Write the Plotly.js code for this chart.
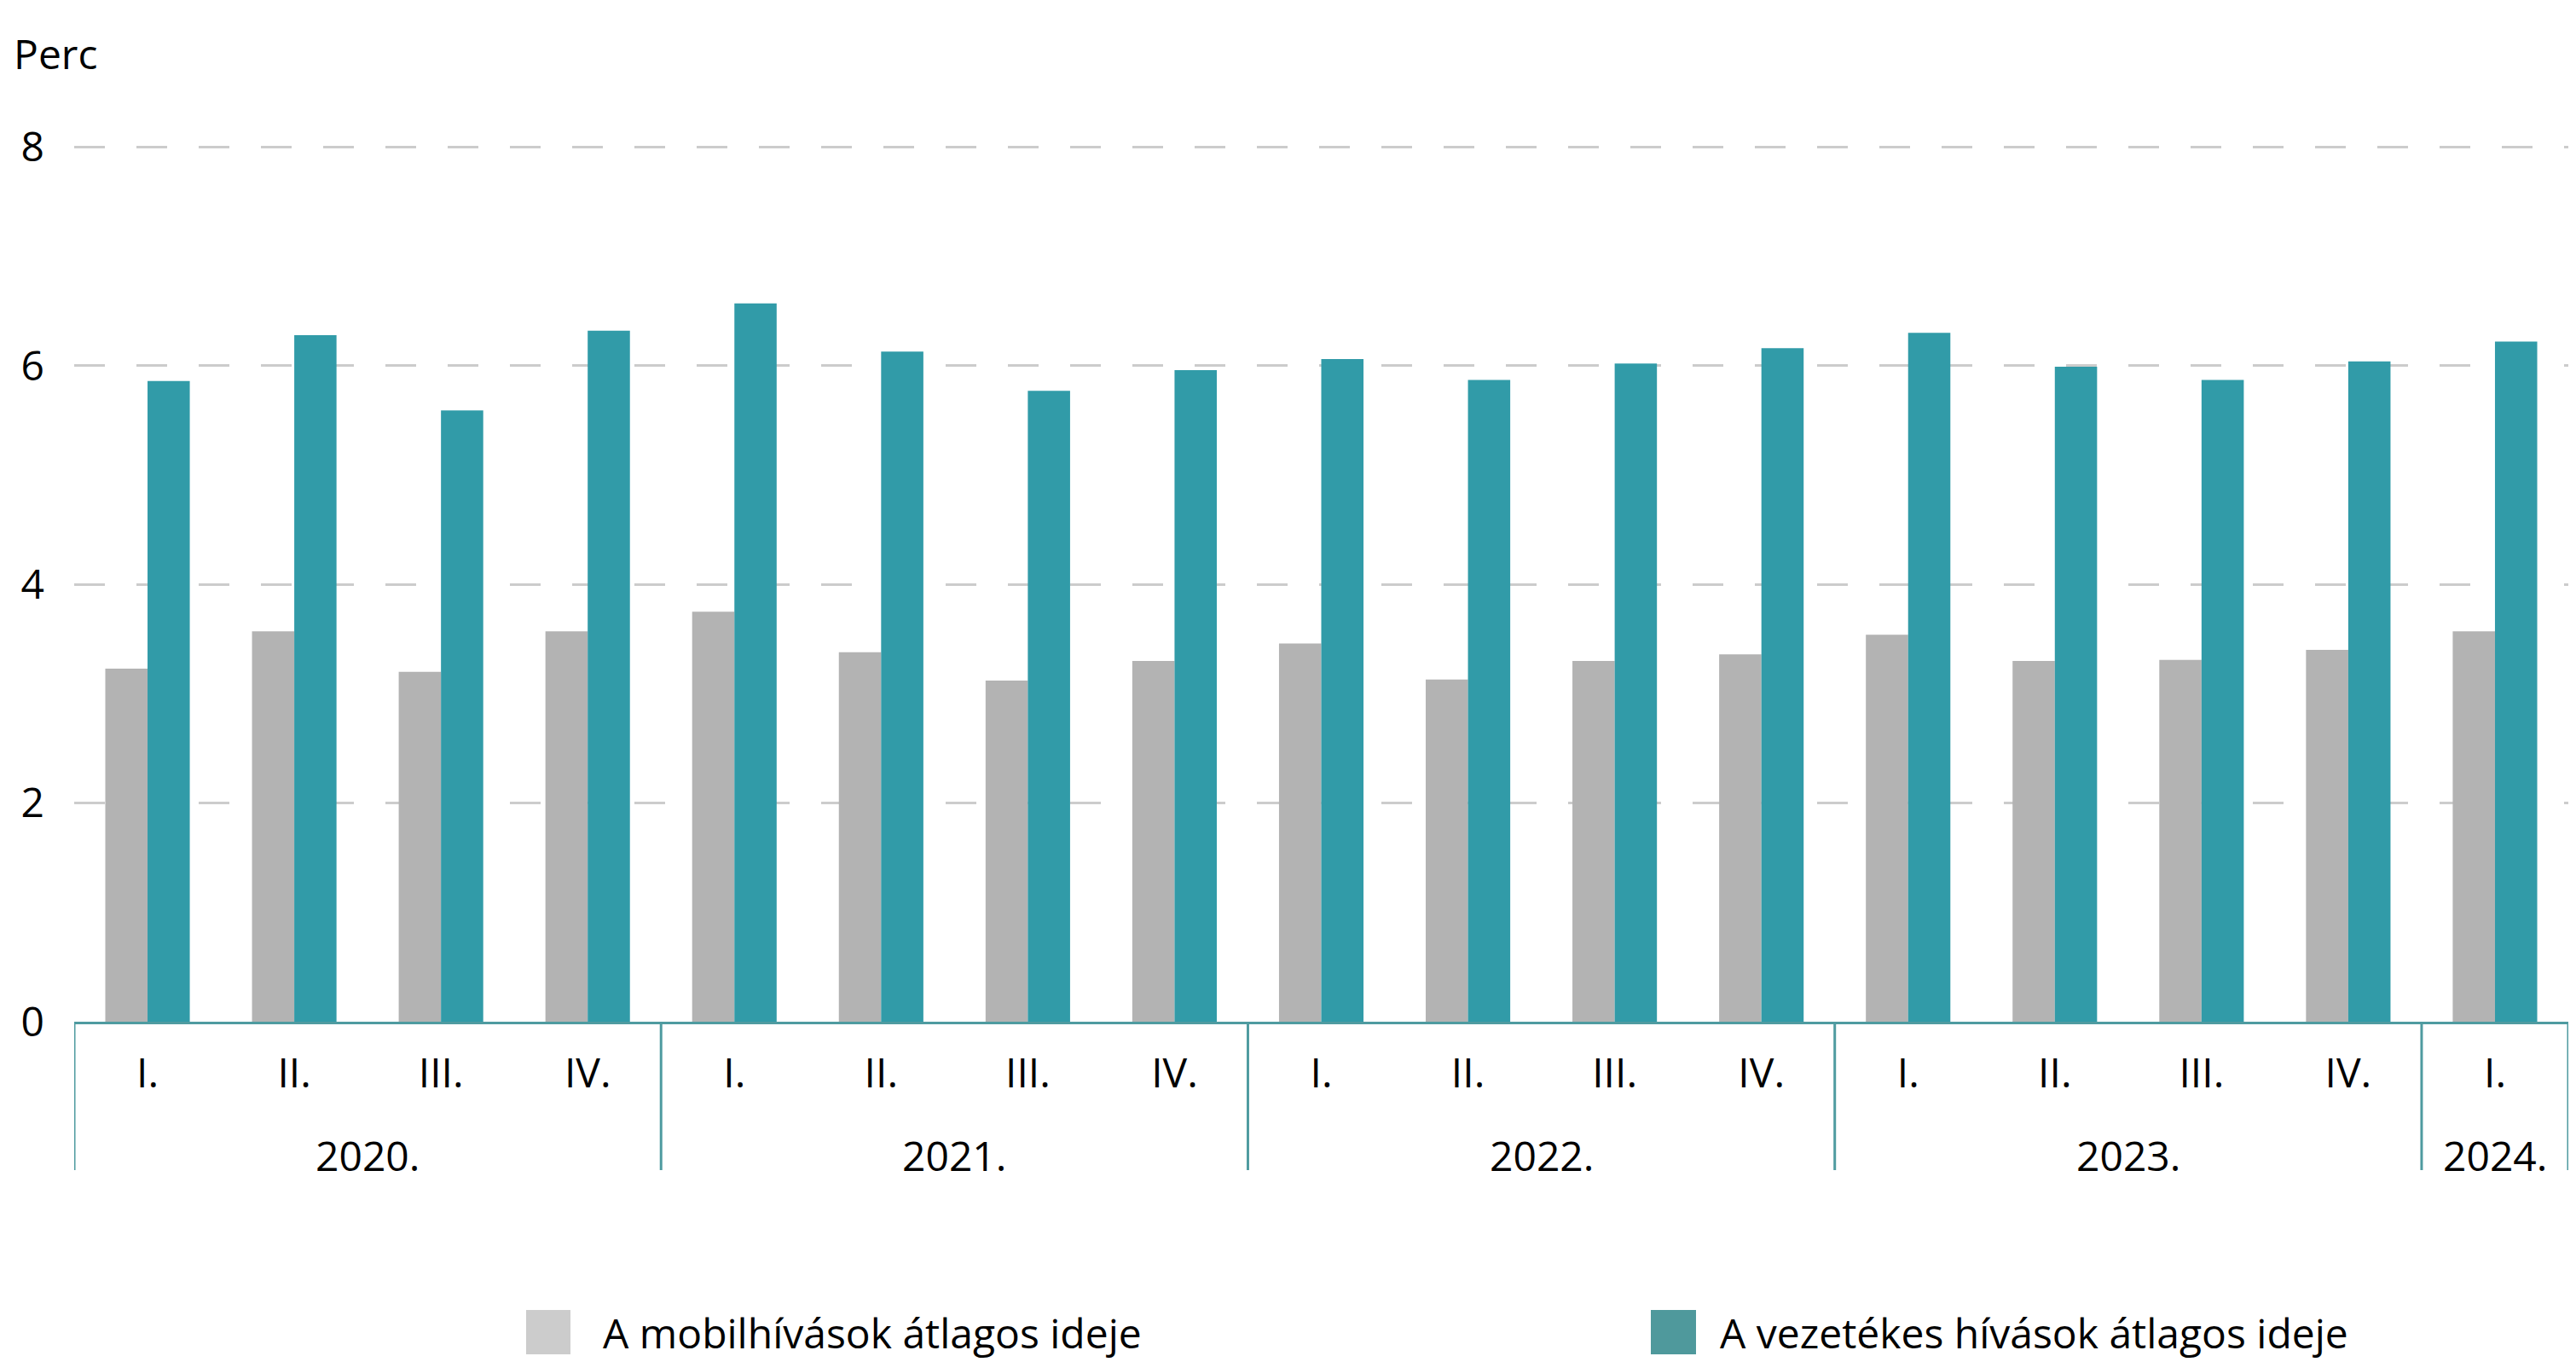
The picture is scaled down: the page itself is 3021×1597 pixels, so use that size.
<!DOCTYPE html>
<html>
<head>
<meta charset="utf-8">
<script src="https://cdn.plot.ly/plotly-3.0.1.min.js"></script>
<style>
  html, body { margin: 0; padding: 0; background: #ffffff; }
  #chart { width: 3021px; height: 1597px; }
</style>
</head>
<body>
<div id="chart"></div>
<script>
// ---- Data ----
const years = ["2020.", "2020.", "2020.", "2020.",
               "2021.", "2021.", "2021.", "2021.",
               "2022.", "2022.", "2022.", "2022.",
               "2023.", "2023.", "2023.", "2023.",
               "2024."];
const quarters = ["I.", "II.", "III.", "IV.",
                  "I.", "II.", "III.", "IV.",
                  "I.", "II.", "III.", "IV.",
                  "I.", "II.", "III.", "IV.",
                  "I."];
const mobileMinutes = [3.23, 3.57, 3.20, 3.57,
                       3.75, 3.38, 3.12, 3.30,
                       3.46, 3.13, 3.30, 3.36,
                       3.54, 3.30, 3.31, 3.40,
                       3.57];
const fixedMinutes = [5.86, 6.28, 5.59, 6.32,
                      6.57, 6.13, 5.77, 5.96,
                      6.06, 5.87, 6.02, 6.16,
                      6.30, 5.99, 5.87, 6.04,
                      6.22];
const seriesNames = ["A mobilhívások átlagos ideje", "A vezetékes hívások átlagos ideje"];
const yTickVals = [0, 2, 4, 6, 8];
const yUnit = "Perc";

// ---- Styling ----
const FONT = "Open Sans, Noto Sans, sans-serif";
const FS = 48;
const grey = "#b3b3b3";
const teal = "#319ba8";
const axisTeal = "#4f9ba0";

// unique category keys (year + quarter), shown with the quarter only
const catKeys = years.map((y, i) => y + " " + quarters[i]);

const traces = [
  {
    type: "bar",
    name: seriesNames[0],
    x: catKeys,
    y: mobileMinutes,
    marker: { color: grey, line: { width: 0 } },
    showlegend: false,
    hoverinfo: "y"
  },
  {
    type: "bar",
    name: seriesNames[1],
    x: catKeys,
    y: fixedMinutes,
    marker: { color: teal, line: { width: 0 } },
    showlegend: false,
    hoverinfo: "y"
  }
];

// plot area geometry (pixels)
const W = 3021, H = 1597;
const L = 87, R = 9, T = 166, B = 399;
const pw = W - L - R, ph = H - T - B;
const px = (x) => (x - L) / pw;          // pixel x -> paper x
const py = (y) => (H - B - y) / ph;      // pixel y -> paper y

// year groups: boundaries (category index space) and centres
const groups = [];
years.forEach((y, i) => {
  if (i === 0 || years[i - 1] !== y) groups.push({ year: y, start: i, end: i });
  else groups[groups.length - 1].end = i;
});

const shapes = [];
const annotations = [];
const dividerBottom = py(1372);
groups.forEach((g, gi) => {
  shapes.push({
    type: "line", xref: "x", yref: "paper",
    x0: g.start - 0.5, x1: g.start - 0.5, y0: 0, y1: dividerBottom,
    line: { color: axisTeal, width: 3 }
  });
  if (gi === groups.length - 1) {
    shapes.push({
      type: "line", xref: "x", yref: "paper",
      x0: g.end + 0.5, x1: g.end + 0.5, y0: 0, y1: dividerBottom,
      line: { color: axisTeal, width: 3 }
    });
  }
  annotations.push({
    text: g.year,
    xref: "x", yref: "paper",
    x: (g.start + g.end) / 2, y: py(1354),
    xanchor: "center", yanchor: "middle",
    showarrow: false,
    font: { family: FONT, size: FS, color: "#000000" }
  });
});

annotations.push(
  {
    text: yUnit,
    xref: "paper", yref: "paper",
    x: px(14), y: py(62),
    xanchor: "left", yanchor: "middle",
    showarrow: false,
    font: { family: FONT, size: FS, color: "#000000" }
  },
  {
    text: seriesNames[0],
    xref: "paper", yref: "paper",
    x: px(705), y: py(1562),
    xanchor: "left", yanchor: "middle",
    showarrow: false,
    font: { family: FONT, size: FS, color: "#000000" }
  },
  {
    text: seriesNames[1],
    xref: "paper", yref: "paper",
    x: px(2015), y: py(1562),
    xanchor: "left", yanchor: "middle",
    showarrow: false,
    font: { family: FONT, size: FS, color: "#000000" }
  }
);

shapes.push(
  {
    type: "rect", xref: "paper", yref: "paper",
    x0: px(617), x1: px(669), y0: py(1588), y1: py(1536),
    fillcolor: "#cccccc", line: { width: 0 }
  },
  {
    type: "rect", xref: "paper", yref: "paper",
    x0: px(1936), x1: px(1989), y0: py(1588), y1: py(1536),
    fillcolor: "#4f999c", line: { width: 0 }
  }
);

const layout = {
  width: W,
  height: H,
  margin: { l: L, r: R, t: T, b: B, pad: 0 },
  paper_bgcolor: "#ffffff",
  plot_bgcolor: "#ffffff",
  font: { family: FONT, size: FS, color: "#000000" },
  barmode: "group",
  bargap: 0.424,
  bargroupgap: 0,
  showlegend: false,
  xaxis: {
    type: "category",
    categoryorder: "array",
    categoryarray: catKeys,
    tickvals: catKeys,
    ticktext: quarters,
    range: [-0.5, catKeys.length - 0.5],
    showline: true,
    linecolor: axisTeal,
    linewidth: 3,
    showgrid: false,
    zeroline: false,
    ticks: "",
    tickangle: 0,
    tickfont: { family: FONT, size: FS, color: "#000000" },
    ticklabelstandoff: 16
  },
  yaxis: {
    range: [0, 8.05],
    tickvals: yTickVals,
    ticktext: yTickVals.map(String),
    showgrid: true,
    gridcolor: "#cccccc",
    gridwidth: 3,
    griddash: "36px,37px",
    zeroline: false,
    showline: false,
    ticks: "",
    ticklabelstandoff: 34,
    tickfont: { family: FONT, size: FS, color: "#000000" },
    fixedrange: true
  },
  annotations: annotations,
  shapes: shapes
};

Plotly.newPlot("chart", traces, layout, { displayModeBar: false, staticPlot: true });
</script>
</body>
</html>
